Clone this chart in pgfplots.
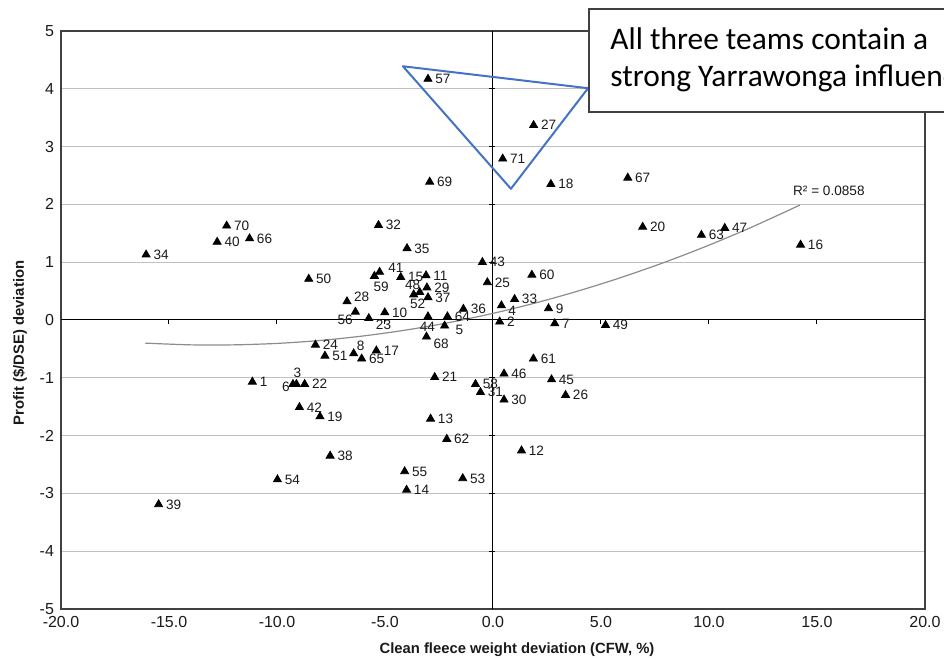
\documentclass[border=0pt]{standalone}
\usepackage{fontspec}
\setmainfont{Liberation Sans}
\newfontfamily\calibri{Carlito}
\usepackage{pgfplots}
\pgfplotsset{compat=1.18}
\usepackage{pgfplotstable}

\definecolor{framegray}{HTML}{404040}
\definecolor{gridgray}{HTML}{C0C0C0}
\definecolor{trendgray}{HTML}{8C8C8C}
\definecolor{annblue}{HTML}{4472C4}
\definecolor{txt}{HTML}{1A1A1A}

% team deviations: x = CFW (%), y = profit ($/DSE); dx/dy shift the label (pt)
\pgfplotstableread{
x      y      lab dx   dy
-11.14 -1.07  1   3    0
0.31   -0.03  2   3    0
-9.26  -1.11  3   -0.4 5.7
0.39   0.25   4   2.8  -2.5
-2.24  -0.10  5   4.8  -2.3
-9.10  -1.11  6   -7.9 -1.3
2.86   -0.06  7   3    0
-6.45  -0.58  8   0.9  3.7
2.57   0.20   9   3    0
-5.01  0.13   10  3    0
-3.10  0.77   11  3    0
1.32   -2.26  12  3    0
-2.89  -1.71  13  3    0
-4.00  -2.94  14  3    0
-4.27  0.74   15  3    0
14.24  1.30   16  3    0
-5.40  -0.53  17  3    0
2.68   2.35   18  3    0
-8.01  -1.67  19  3    0
6.93   1.61   20  3    0
-2.70  -0.99  21  3    0
-8.72  -1.11  22  3    0
-5.75  0.03   23  2.9  -3.3
-8.22  -0.43  24  3    0
-0.26  0.65   25  3    0
3.36   -1.30  26  3    0
1.88   3.37   27  3    0
-6.76  0.32   28  2.9  2.5
-3.06  0.56   29  3    0
0.51   -1.38  30  3    0
-0.58  -1.25  31  3    0
-5.30  1.64   32  3    0
1.00   0.36   33  3    0
-16.06 1.13   34  3    0
-3.98  1.24   35  3    0
-1.37  0.19   36  3    0
-3.01  0.39   37  3    0
-7.54  -2.35  38  3    0
-15.48 -3.19  39  3    0
-12.77 1.35   40  3    0
-5.25  0.83   41  3.7  2
-8.96  -1.51  42  3    0
-0.49  1.00   43  3    0
-3.01  0.06   44  -4.8 -5.3
2.71   -1.03  45  3    0
0.51   -0.93  46  3    0
10.73  1.59   47  3    0
-3.39  0.48   48  -8   3.6
5.21   -0.09  49  3    0
-8.53  0.71   50  3    0
-7.78  -0.62  51  3    0
-3.67  0.44   52  -2.5 -4.8
-1.40  -2.74  53  3    0
-9.98  -2.76  54  3    0
-4.09  -2.62  55  3    0
-6.37  0.14   56  -9.6 -3.8
-3.01  4.17   57  3    0
-0.81  -1.11  58  3    0
-5.49  0.76   59  -1.1 -5.3
1.80   0.78   60  3    0
1.87   -0.67  61  3    0
-2.14  -2.06  62  3    0
9.65   1.47   63  3    0
-2.11  0.06   64  3    0
-6.08  -0.67  65  3    0
-11.27 1.41   66  3    0
6.24   2.46   67  3    0
-3.08  -0.29  68  2.9  -3.7
-2.93  2.39   69  3    0
-12.33 1.63   70  3    0
0.45   2.79   71  3    0
}\teams

\begin{document}
\begin{tikzpicture}
\begin{axis}[
  at={(0,0)}, anchor=south west,
  scale only axis, width=432pt, height=289pt,
  xmin=-20, xmax=20, ymin=-5, ymax=5,
  xtick={-20,-15,...,20}, ytick={-5,...,5},
  xticklabel style={/pgf/number format/.cd, fixed, fixed zerofill, precision=1},
  /pgf/number format/assume math mode=true,
  tick label style={font=\fontsize{8}{9}\selectfont, text=txt},
  major tick length=0pt,
  ymajorgrids, grid style={gridgray, line width=0.5pt},
  axis line style={framegray, line width=0.6pt},
  clip=false,
]
% axes crossing at zero, with their short ticks
\draw[black, line width=0.5pt] (axis cs:0,-5) -- (axis cs:0,5);
\draw[black, line width=0.5pt] (axis cs:-20,0) -- (axis cs:20,0);
\pgfplotsinvokeforeach{-15,-10,-5,5,10,15}{
  \draw[black, line width=0.5pt] (axis cs:#1,0) -- ([yshift=-2pt]axis cs:#1,0);
}
\pgfplotsinvokeforeach{-4,-3,-2,-1,1,2,3,4}{
  \draw[black, line width=0.5pt] ([xshift=-2pt]axis cs:0,#1) -- ([xshift=1pt]axis cs:0,#1);
}

% polynomial trend line
\addplot[trendgray, line width=0.6pt, smooth] coordinates {
  (-16.1,-0.40) (-14,-0.43) (-12,-0.43) (-10,-0.405) (-8,-0.354) (-6,-0.276)
  (-4,-0.172) (-2,-0.042) (0,0.115) (2,0.298) (4,0.508) (6,0.744)
  (8,1.006) (10,1.295) (12,1.61) (14.2,1.987)
};
\node[text=txt, font=\fontsize{6.8}{8}\selectfont] at (axis cs:15.55,2.23) {R² = 0.0858};

\addplot[only marks, mark=triangle*, mark size=2.3pt, black,
  point meta=explicit symbolic,
  visualization depends on={\thisrow{dx} \as \ldx},
  visualization depends on={\thisrow{dy} \as \ldy},
  nodes near coords,
  nodes near coords style={anchor=west, xshift=\ldx pt, yshift=\ldy pt,
    inner sep=0.5pt, text=txt, font=\fontsize{6.8}{8}\selectfont},
] table[x=x, y=y, meta=lab] {\teams};

% highlighted group
\draw[annblue, line width=1pt, line join=round]
  (axis cs:-4.17,4.39) -- (axis cs:4.40,4.01) -- (axis cs:0.83,2.27) -- cycle;
\end{axis}

\node[font=\bfseries\fontsize{7.4}{9}\selectfont, text=txt] at (228pt,-20.5pt)
  {Clean fleece weight deviation (CFW, \%)};
\node[rotate=90, font=\bfseries\fontsize{7.4}{9}\selectfont, text=txt] at (-20.5pt,133pt)
  {Profit (\$/DSE) deviation};

% callout box, running off the right edge
\draw[framegray, fill=white, line width=0.75pt] (264pt,248.5pt) rectangle (490pt,300pt);
\node[anchor=base west, inner sep=0pt, font=\calibri\fontsize{15.7}{18.5}\selectfont]
  at (274.5pt,279.5pt) {All three teams contain a};
\node[anchor=base west, inner sep=0pt, font=\calibri\fontsize{15.7}{18.5}\selectfont]
  at (274.5pt,261pt) {strong Yarrawonga influence};

\pgfresetboundingbox
\path[use as bounding box] (-30.5pt,-25.5pt) rectangle (441.5pt,304.5pt);
\end{tikzpicture}
\end{document}
